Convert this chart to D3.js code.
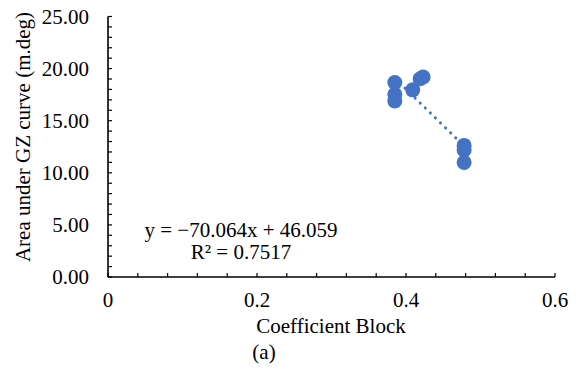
<!DOCTYPE html>
<html>
<head>
<meta charset="utf-8">
<script src="https://cdn.jsdelivr.net/npm/d3@7"></script>
<style>
  html, body { margin: 0; padding: 0; background: #fff; }
  svg text { font-family: "Liberation Serif", "Times New Roman", Times, serif; fill: #000; }
</style>
</head>
<body>
<svg id="chart" width="579" height="369"></svg>
<script>
// Block coefficient vs. area under the GZ curve
const blockCoeff = [0.385, 0.385, 0.385, 0.409, 0.419, 0.423, 0.478, 0.478, 0.478];
const gzArea     = [18.66, 17.53, 16.9, 17.96, 19.02, 19.2, 12.63, 12.2, 11.0];

// Linear trendline coefficients
const slope = -70.064;
const intercept = 46.059;
const rSquared = 0.7517;

const xTicks = [0, 0.2, 0.4, 0.6];
const yTicks = [0, 5, 10, 15, 20, 25];

const FONT = "Liberation Serif";
const FS = 21;

const svg = d3.select("#chart");
const x = d3.scaleLinear().domain([0, 0.6]).range([108, 555]);
const y = d3.scaleLinear().domain([0, 25]).range([277, 16.5]);

// Axes (minor ticks point inward)
const xMinor = d3.range(0, 0.6001, 0.04);
const yMinor = d3.range(0, 25.001, 1);

const gx = svg.append("g").attr("transform", `translate(0,${y(0)})`);
gx.selectAll("line.tick").data(xMinor).join("line")
  .attr("class", "tick")
  .attr("x1", d => x(d)).attr("x2", d => x(d))
  .attr("y1", 0).attr("y2", -4)
  .attr("stroke", "#000").attr("stroke-width", 1.2);
gx.append("line").attr("x1", x(0)).attr("x2", x(0.6)).attr("stroke", "#000").attr("stroke-width", 1.6);
gx.selectAll("text").data(xTicks).join("text")
  .attr("x", d => x(d)).attr("y", 30)
  .attr("text-anchor", "middle")
  .attr("font-family", FONT)
  .attr("font-size", FS)
  .text(d => d3.format("")(d));

const gy = svg.append("g").attr("transform", `translate(${x(0)},0)`);
gy.selectAll("line.tick").data(yMinor).join("line")
  .attr("class", "tick")
  .attr("y1", d => y(d)).attr("y2", d => y(d))
  .attr("x1", 0).attr("x2", 4)
  .attr("stroke", "#000").attr("stroke-width", 1.2);
gy.append("line").attr("y1", y(0)).attr("y2", y(25)).attr("stroke", "#000").attr("stroke-width", 1.6);
gy.selectAll("text").data(yTicks).join("text")
  .attr("x", -19).attr("y", d => y(d))
  .attr("dy", "0.35em")
  .attr("text-anchor", "end")
  .attr("font-family", FONT)
  .attr("font-size", FS)
  .text(d => d3.format(".2f")(d));

// Axis titles
svg.append("text")
  .attr("transform", `translate(30,137) rotate(-90)`)
  .attr("text-anchor", "middle")
  .attr("font-family", FONT)
  .attr("font-size", FS)
  .text("Area under GZ curve (m.deg)");
svg.append("text")
  .attr("x", 331).attr("y", 333)
  .attr("text-anchor", "middle")
  .attr("font-family", FONT)
  .attr("font-size", FS)
  .text("Coefficient Block");
svg.append("text")
  .attr("x", 264).attr("y", 359)
  .attr("text-anchor", "middle")
  .attr("font-family", FONT)
  .attr("font-size", FS)
  .text("(a)");

// Dotted trendline over the data range
const xr = d3.extent(blockCoeff);
svg.append("line")
  .attr("x1", x(xr[0])).attr("y1", y(slope * xr[0] + intercept))
  .attr("x2", x(xr[1])).attr("y2", y(slope * xr[1] + intercept))
  .attr("stroke", "#4472C4")
  .attr("stroke-width", 3)
  .attr("stroke-linecap", "round")
  .attr("stroke-dasharray", "0.1 7");

// Markers
const pts = blockCoeff.map((d, i) => ({ x: d, y: gzArea[i] }));
svg.append("g").selectAll("circle").data(pts).join("circle")
  .attr("cx", d => x(d.x)).attr("cy", d => y(d.y))
  .attr("r", 7.5)
  .attr("fill", "#4472C4");

// Trendline equation
svg.append("text")
  .attr("x", 241).attr("y", 237)
  .attr("text-anchor", "middle")
  .attr("font-family", FONT)
  .attr("font-size", FS)
  .text(`y = \u2212${Math.abs(slope).toFixed(3)}x + ${intercept.toFixed(3)}`);
svg.append("text")
  .attr("x", 241).attr("y", 259)
  .attr("text-anchor", "middle")
  .attr("font-family", FONT)
  .attr("font-size", FS)
  .text(`R\u00B2 = ${rSquared}`);
</script>
</body>
</html>
